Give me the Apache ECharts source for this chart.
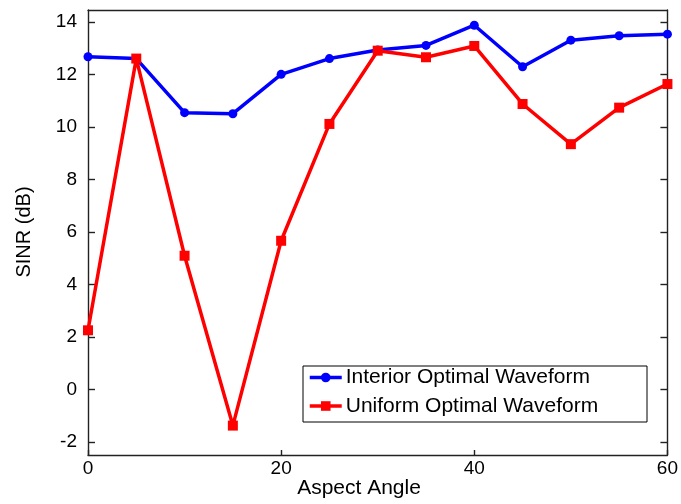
<!DOCTYPE html>
<html>
<head>
<meta charset="utf-8">
<script src="https://cdn.jsdelivr.net/npm/echarts@6/dist/echarts.min.js"></script>
<style>html,body{margin:0;padding:0;background:#fff}#c{width:681px;height:504px}</style>
</head>
<body>
<div id="c"></div>
<script>
var angles = [0, 5, 10, 15, 20, 25, 30, 35, 40, 45, 50, 55, 60];
var interior = [12.67, 12.6, 10.54, 10.5, 12.0, 12.6, 12.93, 13.1, 13.87, 12.29, 13.3, 13.47, 13.53];
var uniform = [2.25, 12.6, 5.09, -1.38, 5.66, 10.11, 12.9, 12.65, 13.08, 10.87, 9.34, 10.73, 11.63];
var yTicks = [-2, 0, 2, 4, 6, 8, 10, 12, 14];
var xTicks = [0, 20, 40, 60];
var seriesNames = ['Interior Optimal Waveform', 'Uniform Optimal Waveform'];
var xTitle = 'Aspect Angle';
var yTitle = 'SINR (dB)';

function pairs(xs, ys) { return xs.map(function (x, i) { return [x, ys[i]]; }); }

var font = 'Liberation Sans, Arial, sans-serif';
var axisLineStyle = { color: '#222', width: 1.4 };
function axLine() { return { show: true, onZero: false, lineStyle: axisLineStyle }; }
var chart = echarts.init(document.getElementById('c'));
chart.setOption({
  animation: false,
  backgroundColor: '#fff',
  grid: { left: 88, right: 9, top: 10, bottom: 49, containLabel: false },
  xAxis: [{
    type: 'value', min: 0, max: 60, interval: 20, position: 'bottom',
    axisLine: axLine(),
    axisTick: { show: true, inside: true, length: 5, lineStyle: axisLineStyle, customValues: xTicks },
    axisLabel: { show: true, color: '#000', fontFamily: font, fontSize: 19, margin: 4,
      customValues: xTicks },
    splitLine: { show: false }
  }, {
    type: 'value', min: 0, max: 60, interval: 20, position: 'top',
    axisLine: axLine(),
    axisTick: { show: false },
    axisLabel: { show: false }, splitLine: { show: false }
  }],
  yAxis: [{
    type: 'value', min: -2.5, max: 14.45, position: 'left',
    axisLine: axLine(),
    axisTick: { show: true, inside: true, length: 7, lineStyle: axisLineStyle, customValues: yTicks },
    axisLabel: { show: true, color: '#000', fontFamily: font, fontSize: 19, margin: 11, customValues: yTicks },
    splitLine: { show: false }
  }, {
    type: 'value', min: -2.5, max: 14.45, position: 'right',
    axisLine: axLine(),
    axisTick: { show: true, inside: true, length: 7, lineStyle: axisLineStyle, customValues: yTicks },
    axisLabel: { show: false }, splitLine: { show: false }
  }],
  legend: {
    orient: 'vertical', left: 308, top: 367, padding: 0,
    itemWidth: 32, itemHeight: 12, itemGap: 7.5,
    lineStyle: { width: 3.5 },
    textStyle: { fontFamily: font, fontSize: 21, lineHeight: 20, color: '#000', padding: [0, 0, 0, -1] },
    data: seriesNames
  },
  graphic: [
    { type: 'rect', shape: { x: 303, y: 366, width: 344, height: 56 },
      style: { fill: 'none', stroke: '#000', lineWidth: 1 }, z: 1 },
    { type: 'text', x: 359, y: 488,
      style: { text: xTitle, font: '21px ' + font, fill: '#000', align: 'center', verticalAlign: 'middle' } },
    { type: 'text', x: 24, y: 232, rotation: Math.PI / 2,
      style: { text: yTitle, font: '20px ' + font, fill: '#000', align: 'center', verticalAlign: 'middle' } }
  ],
  series: [{
    name: seriesNames[0], type: 'line', data: pairs(angles, interior),
    symbol: 'circle', symbolSize: 9,
    lineStyle: { color: '#0000ff', width: 3.5 },
    itemStyle: { color: '#0000ff' }, z: 3
  }, {
    name: seriesNames[1], type: 'line', data: pairs(angles, uniform),
    symbol: 'rect', symbolSize: 10,
    lineStyle: { color: '#ff0000', width: 3.5 },
    itemStyle: { color: '#ff0000' }, z: 4
  }]
});
</script>
</body>
</html>
